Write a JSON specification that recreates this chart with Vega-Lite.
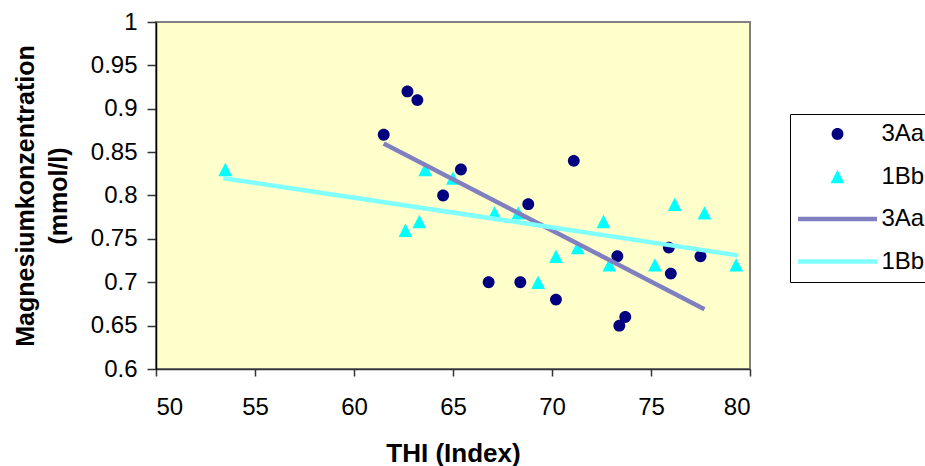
{
  "$schema": "https://vega.github.io/schema/vega-lite/v6.json",
  "width": 594,
  "height": 347,
  "autosize": "none",
  "padding": {"left": 156, "top": 22, "right": 175, "bottom": 97},
  "background": "white",
  "config": {
    "view": {"fill": "#FFFFCC", "stroke": "#808080", "strokeWidth": 2},
    "font": "Liberation Sans",
    "axis": {
      "grid": false,
      "labelFont": "Liberation Sans",
      "labelFontSize": 24,
      "labelColor": "black",
      "titleFont": "Liberation Sans",
      "titleFontWeight": "bold",
      "titleColor": "black",
      "domainColor": "#333333",
      "domainWidth": 1.5,
      "tickColor": "#333333",
      "tickWidth": 1.5
    }
  },
  "data": {
    "values": [
      {"kind": "pt", "s": "3Aa", "x": 61.5, "y": 0.87},
      {"kind": "pt", "s": "3Aa", "x": 62.7, "y": 0.92},
      {"kind": "pt", "s": "3Aa", "x": 63.2, "y": 0.91},
      {"kind": "pt", "s": "3Aa", "x": 65.4, "y": 0.83},
      {"kind": "pt", "s": "3Aa", "x": 64.5, "y": 0.80},
      {"kind": "pt", "s": "3Aa", "x": 71.1, "y": 0.84},
      {"kind": "pt", "s": "3Aa", "x": 68.8, "y": 0.79},
      {"kind": "pt", "s": "3Aa", "x": 73.3, "y": 0.73},
      {"kind": "pt", "s": "3Aa", "x": 75.9, "y": 0.74},
      {"kind": "pt", "s": "3Aa", "x": 77.5, "y": 0.73},
      {"kind": "pt", "s": "3Aa", "x": 76.0, "y": 0.71},
      {"kind": "pt", "s": "3Aa", "x": 66.8, "y": 0.70},
      {"kind": "pt", "s": "3Aa", "x": 68.4, "y": 0.70},
      {"kind": "pt", "s": "3Aa", "x": 70.2, "y": 0.68},
      {"kind": "pt", "s": "3Aa", "x": 73.7, "y": 0.66},
      {"kind": "pt", "s": "3Aa", "x": 73.4, "y": 0.65},
      {"kind": "pt", "s": "1Bb", "x": 53.5, "y": 0.83},
      {"kind": "pt", "s": "1Bb", "x": 63.6, "y": 0.83},
      {"kind": "pt", "s": "1Bb", "x": 65.0, "y": 0.82},
      {"kind": "pt", "s": "1Bb", "x": 62.6, "y": 0.76},
      {"kind": "pt", "s": "1Bb", "x": 63.3, "y": 0.77},
      {"kind": "pt", "s": "1Bb", "x": 67.1, "y": 0.78},
      {"kind": "pt", "s": "1Bb", "x": 68.3, "y": 0.78},
      {"kind": "pt", "s": "1Bb", "x": 72.6, "y": 0.77},
      {"kind": "pt", "s": "1Bb", "x": 76.2, "y": 0.79},
      {"kind": "pt", "s": "1Bb", "x": 77.7, "y": 0.78},
      {"kind": "pt", "s": "1Bb", "x": 71.3, "y": 0.74},
      {"kind": "pt", "s": "1Bb", "x": 70.2, "y": 0.73},
      {"kind": "pt", "s": "1Bb", "x": 72.9, "y": 0.72},
      {"kind": "pt", "s": "1Bb", "x": 75.2, "y": 0.72},
      {"kind": "pt", "s": "1Bb", "x": 79.3, "y": 0.72},
      {"kind": "pt", "s": "1Bb", "x": 69.3, "y": 0.70},
      {"kind": "ln", "s": "3Aa trend", "x": 61.5, "y": 0.860},
      {"kind": "ln", "s": "3Aa trend", "x": 77.7, "y": 0.669},
      {"kind": "ln", "s": "1Bb trend", "x": 53.4, "y": 0.820},
      {"kind": "ln", "s": "1Bb trend", "x": 79.4, "y": 0.731}
    ]
  },
  "layer": [
    {
      "transform": [{"filter": "datum.kind == 'pt'"}],
      "mark": {"type": "point", "filled": true, "size": 390, "opacity": 1, "strokeWidth": 0},
      "encoding": {
        "x": {
          "field": "x", "type": "quantitative",
          "scale": {"domain": [50, 80], "nice": false, "zero": false},
          "axis": {
            "values": [50, 55, 60, 65, 70, 75, 80], "format": "d",
            "tickSize": 7, "labelPadding": 19,
            "title": "THI (Index)", "titleFontSize": 26,
            "titleX": 297, "titleY": 92, "titleBaseline": "alphabetic", "titleAlign": "center"
          }
        },
        "y": {
          "field": "y", "type": "quantitative",
          "scale": {"domain": [0.6, 1], "nice": false, "zero": false},
          "axis": {
            "values": [0.6, 0.65, 0.7, 0.75, 0.8, 0.85, 0.9, 0.95, 1], "format": "~g",
            "tickSize": 9, "labelPadding": 10, "domainColor": "black",
            "title": ["Magnesiumkonzentration", "(mmol/l)"], "titleFontSize": 25, "titleLineHeight": 33,
            "titleAngle": 270, "titleX": -123, "titleY": 173.5, "titleBaseline": "alphabetic", "titleAlign": "center"
          }
        },
        "color": {
          "field": "s", "type": "nominal",
          "scale": {
            "domain": ["3Aa", "1Bb", "3Aa trend", "1Bb trend"],
            "range": ["#000080", "#00FFFF", "#8080C0", "#80FFFF"]
          },
          "legend": {
            "title": null, "orient": "none", "legendX": 634, "legendY": 92,
            "padding": 8, "rowPadding": 18.5, "strokeColor": "black", "fillColor": "white",
            "symbolSize": 390, "symbolStrokeWidth": 0, "symbolOffset": 27.5, "labelOffset": 32,
            "labelFont": "Liberation Sans", "labelFontSize": 24, "labelColor": "black",
            "labelExpr": "replace(datum.label, ' trend', '')",
            "encode": {"symbols": {"update": {"fill": {"scale": "color", "field": "value"}, "opacity": {"value": 1}}}}
          }
        },
        "shape": {
          "field": "s", "type": "nominal",
          "scale": {
            "domain": ["3Aa", "1Bb", "3Aa trend", "1Bb trend"],
            "range": [
              "M-0.6,0A0.6,0.6,0,1,0,0.6,0A0.6,0.6,0,1,0,-0.6,0Z",
              "M0,-0.68L0.7,0.68L-0.7,0.68Z",
              "M-4,-0.23H4V0.23H-4Z",
              "M-4,-0.23H4V0.23H-4Z"
            ]
          },
          "legend": {
            "title": null, "orient": "none", "legendX": 634, "legendY": 92,
            "padding": 8, "rowPadding": 18.5, "strokeColor": "black", "fillColor": "white",
            "symbolSize": 390, "symbolStrokeWidth": 0, "symbolOffset": 27.5, "labelOffset": 32,
            "labelFont": "Liberation Sans", "labelFontSize": 24, "labelColor": "black",
            "labelExpr": "replace(datum.label, ' trend', '')",
            "encode": {"symbols": {"update": {"fill": {"scale": "color", "field": "value"}, "opacity": {"value": 1}}}}
          }
        }
      }
    },
    {
      "transform": [{"filter": "datum.kind == 'ln'"}],
      "mark": {"type": "line", "strokeWidth": 4.5, "strokeCap": "butt"},
      "encoding": {
        "x": {"field": "x", "type": "quantitative"},
        "y": {"field": "y", "type": "quantitative"},
        "color": {"field": "s", "type": "nominal"}
      }
    }
  ]
}
